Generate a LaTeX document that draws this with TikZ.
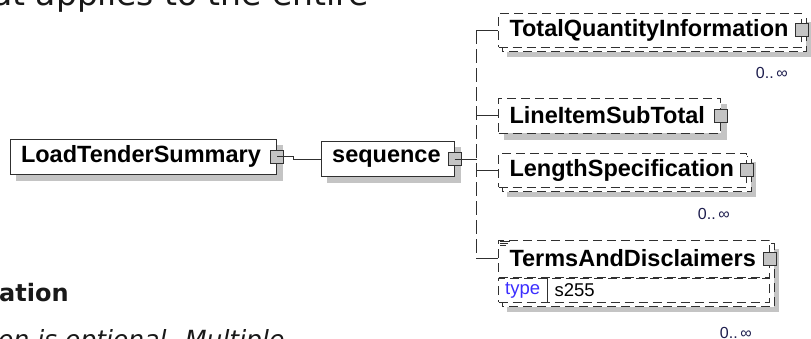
\documentclass[tikz,border=0pt]{standalone}
\usepackage{fontspec}
\setmainfont{Liberation Sans}
\newfontfamily\pagefont{DejaVu Sans}
\usetikzlibrary{positioning,backgrounds}
\definecolor{shade}{HTML}{C4C4C4}
\definecolor{edge}{HTML}{303030}
\definecolor{typeblue}{HTML}{3C2EFF}
\definecolor{occur}{HTML}{1E1E4E}
\tikzset{elem/.style={draw=edge,fill=white,line width=1pt,minimum height=35pt,
    inner xsep=11pt,inner ysep=0pt,anchor=west,align=left,text width=#1,
    font=\bfseries\fontsize{23.5}{25}\selectfont},
    optelem/.style={elem=#1,dash pattern=on 9pt off 5pt},
    backbox/.style={draw=edge,fill=white,line width=1pt,dash pattern=on 9pt off 5pt},
    shadowbox/.style={fill=shade,draw=none},
    sqbox/.style={draw=edge,fill=shade,line width=1pt,minimum size=13pt,inner sep=0pt},
    wire/.style={draw=edge,line width=1pt},
    spine/.style={wire,dash pattern=on 14pt off 5pt},
    occurs/.style={font=\fontsize{16}{18}\selectfont,text=occur,inner sep=0pt},
    pagetext/.style={anchor=base west,inner sep=0pt,text=black!90}}

\begin{document}
\begin{tikzpicture}[x=1pt,y=-1pt]
    \useasboundingbox (0,0) rectangle (811,338);
    \clip (0,0) rectangle (811,338);
    % text of the page round the diagram
    \node[pagetext,font=\pagefont\fontsize{33}{33}\selectfont] (intro) at (-8,5) {at applies to the entire};
    \node[pagetext,font=\pagefont\bfseries\fontsize{24}{24}\selectfont] (heading) at (-1,301.7) {ation};
    \node[pagetext,font=\pagefont\itshape\fontsize{25}{25}\selectfont] (remark) at (-2,348) {on is optional. Multiple};
    % boxes
    \node[elem=244.5pt] (lts) at (9.5,156.5) {LoadTenderSummary};
    \node[elem=111pt,minimum height=35.5pt] (seq) at (320.7,159) {sequence};
    \node[optelem=281pt,minimum height=34pt] (tqi) at (498,30) {TotalQuantityInformation};
    \node[optelem=200pt] (list) at (498,115.5) {LineItemSubTotal};
    \node[optelem=226pt,minimum height=34pt] (lsp) at (498,170) {LengthSpecification};
    \node[optelem=249pt,minimum height=37pt] (tad) at (498,258.5) {TermsAndDisclaimers};
    \node[optelem=249pt,minimum height=24pt,below=0pt of tad] (typerow) {};
    \node[anchor=west,inner xsep=7pt,inner ysep=0pt,text=typeblue,font=\fontsize{18.5}{20}\selectfont] (typekey) at (typerow.west) {type};
    \node[right=0pt of typekey,inner xsep=7pt,inner ysep=0pt,font=\fontsize{18.5}{20}\selectfont] (typeval) {s255};
    \draw[wire] (typekey.east |- typerow.north) -- (typekey.east |- typerow.south);
    \foreach \d/\l in {1.5/10,3.5/8,5.5/6}
        \draw[wire,line width=0.8pt] ([shift={(2,\d)}]tad.north west) -- ++(\l,0);
    % squares
    \node[sqbox] (ltssq) at (lts.east) {};
    \node[sqbox] (seqsq) at (seq.east) {};
    \foreach \n in {tqi,list,lsp,tad}
        \node[sqbox] (\n-sq) at (\n.east) {};
    % shadows and repeated boxes
    \begin{scope}[on background layer]
        \foreach \n in {lts,seq,list}
            \fill[shadowbox] ([shift={(6,6)}]\n.north west) rectangle ([shift={(6,6)}]\n.south east);
        \foreach \n in {tqi,lsp}
            \fill[shadowbox] ([shift={(9,9)}]\n.north west) rectangle ([shift={(9,9)}]\n.south east);
        \fill[shadowbox] ([shift={(9,9)}]tad.north west) rectangle ([shift={(9,9)}]typerow.south east);
        \foreach \n in {tqi,lsp}
            \draw[backbox] ([shift={(4,4)}]\n.north west) rectangle ([shift={(4,4)}]\n.south east);
        \draw[backbox] ([shift={(4,4)}]tad.north west) rectangle ([shift={(4,4)}]typerow.south east);
    \end{scope}
    % connectors
    \coordinate (fork) at (476.5,0);
    \draw[wire] (ltssq.center) -- ++(16,0) |- (seq.west);
    \draw[wire] (seqsq.center) -- (seqsq -| fork);
    \draw[spine] (fork |- tqi.west) -- (fork |- tad.west);
    \foreach \n in {tqi,list,lsp,tad}
        \draw[wire] (fork |- \n.west) -- (\n.west);
    % occurrences
    \node[occurs,below left=20pt and 14pt of tqi.south east] (tqi-occ) {0..\,∞};
    \node[occurs,below left=21pt and 17pt of lsp.south east] (lsp-occ) {0..\,∞};
    \node[occurs,below left=25pt and 18pt of typerow.south east] (tad-occ) {0..\,∞};
\end{tikzpicture}
\end{document}
